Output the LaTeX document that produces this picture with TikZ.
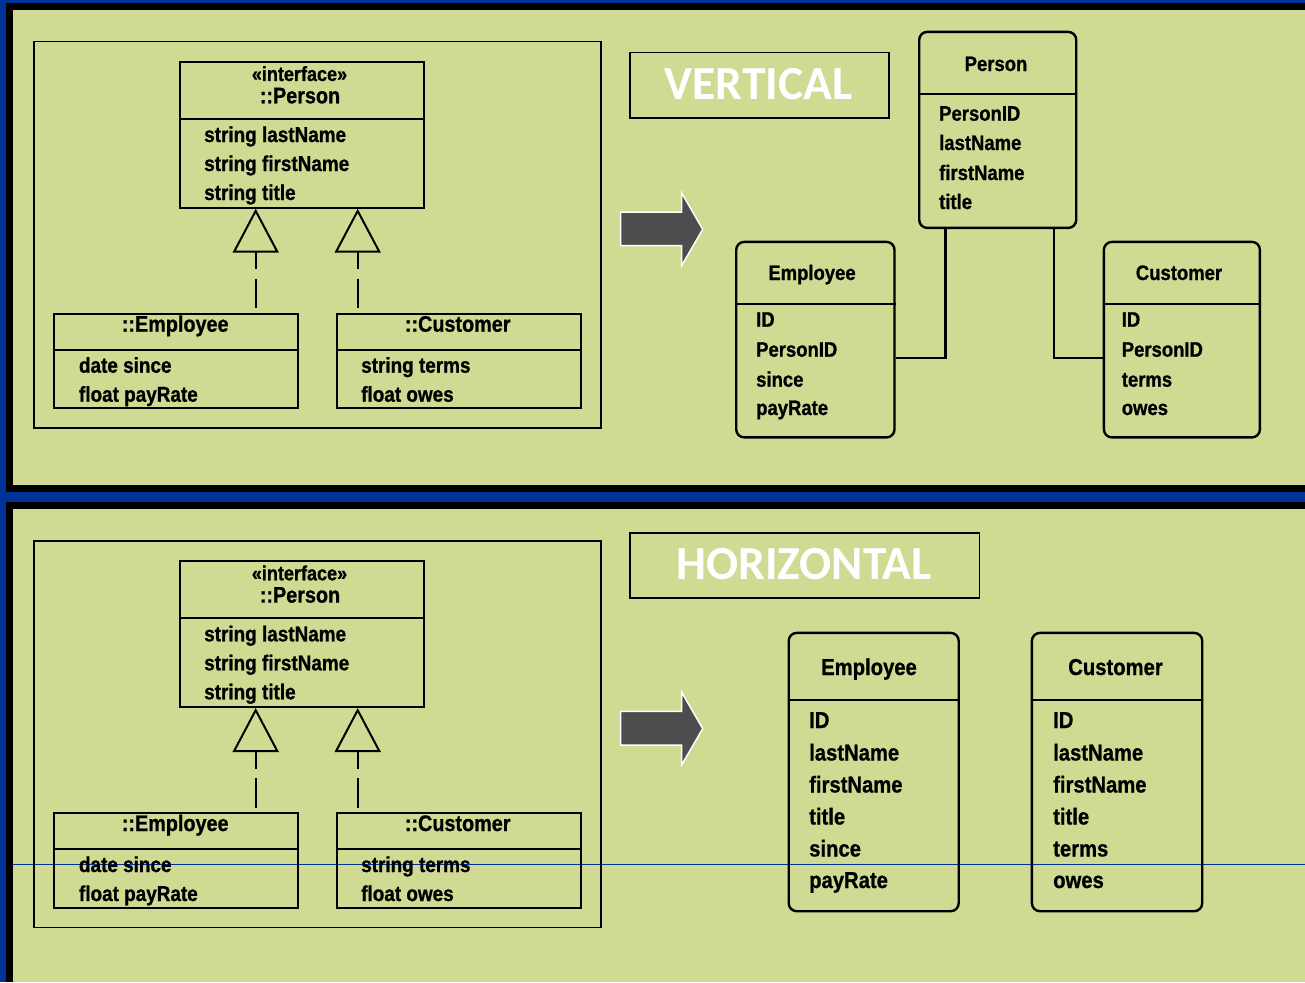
\documentclass[tikz,border=0pt]{standalone}
\usepackage{fontspec}
\usetikzlibrary{arrows.meta}
\newfontfamily\umlf[FakeStretch=0.88, FakeBold=0.9]{Liberation Sans}
\newfontfamily\headf{Carlito}
\definecolor{panelgreen}{RGB}{208,218,146}
\definecolor{frameblue}{RGB}{0,51,153}
\definecolor{arrowgray}{RGB}{77,77,77}
\tikzset{
  umlbox/.style={draw=black, line width=2pt, anchor=north west, inner sep=0pt},
  thinbox/.style={draw=black, line width=1.8pt, anchor=north west, inner sep=0pt},
  tblbox/.style={draw=black, line width=2.4pt, rounded corners=8pt, anchor=north west, inner sep=0pt},
  divider/.style={draw=black, line width=2pt},
  umlattr/.style={font=\umlf\bfseries\fontsize{21.5}{24}\selectfont, anchor=base west, inner sep=0pt},
  umltitle/.style={font=\umlf\bfseries\fontsize{22.5}{24}\selectfont, anchor=base, inner sep=0pt},
  stereo/.style={font=\umlf\bfseries\fontsize{20.5}{22}\selectfont, anchor=base, inner sep=0pt},
  tattr/.style={font=\umlf\bfseries\fontsize{21}{24}\selectfont, anchor=base west, inner sep=0pt},
  ttitle/.style={font=\umlf\bfseries\fontsize{21}{24}\selectfont, anchor=base, inner sep=0pt},
  battr/.style={font=\umlf\bfseries\fontsize{23}{26}\selectfont, anchor=base west, inner sep=0pt},
  btitle/.style={font=\umlf\bfseries\fontsize{23}{26}\selectfont, anchor=base, inner sep=0pt},
  headtxt/.style={font=\headf\bfseries\fontsize{47.5}{52}\selectfont, text=white, anchor=base, inner sep=0pt},
  gen/.style={draw=black, line width=2pt, dash pattern=on 17pt off 9.5pt on 60pt,
    {Triangle[open, length=44pt, width=46pt]}-, shorten >=4.5pt},
  conn/.style={draw=black, line width=2.4pt},
  bigarrow/.style={fill=arrowgray, draw=white, line width=1.5pt, line join=miter},
}
\newcommand\umlblock[1]{%
  \node[thinbox, minimum width=566.8pt, minimum height=386.6pt] (outer#1) at (33.2,40.7) {};
  \node[umlbox, minimum width=244pt, minimum height=146pt] (per#1) at (179,60.7) {};
  \draw[divider] ([yshift=-58.3pt]per#1.north west) -- ([yshift=-58.3pt]per#1.north east);
  \node[stereo] (st#1) at (299.5,81) {«interface»};
  \node[umltitle] (pt#1) at (300,103.3) {::Person};
  \node[umlattr] (pa1#1) at (204,142) {string lastName};
  \node[umlattr] (pa2#1) at (204,171) {string firstName};
  \node[umlattr] (pa3#1) at (204,200) {string title};
  \node[umlbox, minimum width=244.3pt, minimum height=94.6pt] (emp#1) at (53,312.7) {};
  \draw[divider] ([yshift=-37.3pt]emp#1.north west) -- ([yshift=-37.3pt]emp#1.north east);
  \node[umltitle] (et#1) at (175.2,331.7) {::Employee};
  \node[umlattr] (ea1#1) at (78.8,372.7) {date since};
  \node[umlattr] (ea2#1) at (78.8,401.7) {float payRate};
  \node[umlbox, minimum width=243.8pt, minimum height=94.6pt] (cus#1) at (335.8,312.7) {};
  \draw[divider] ([yshift=-37.3pt]cus#1.north west) -- ([yshift=-37.3pt]cus#1.north east);
  \node[umltitle] (ct#1) at (457.7,331.7) {::Customer};
  \node[umlattr] (ca1#1) at (361,372.7) {string terms};
  \node[umlattr] (ca2#1) at (361,401.7) {float owes};
  \coordinate (ga#1) at (255.7,0);
  \coordinate (gb#1) at (357.7,0);
  \draw[gen] (per#1.south -| ga#1) -- (emp#1.north -| ga#1);
  \draw[gen] (per#1.south -| gb#1) -- (cus#1.north -| gb#1);
  \filldraw[bigarrow] (620.7,212) -- (681.7,212) -- (681.7,193) -- (702.7,229.3)
    -- (681.7,265.5) -- (681.7,245.7) -- (620.7,245.7) -- cycle;
}
\begin{document}
\begin{tikzpicture}[x=1pt, y=-1pt]
\path[use as bounding box] (0,0) rectangle (1305,982);
% frame and panels
\fill[frameblue] (0,0) rectangle (1305,982);
\fill[black] (6,3) rectangle (1305,491.5);
\fill[panelgreen] (12.5,10) rectangle (1305,485);
\fill[black] (6,502) rectangle (1305,982);
\fill[panelgreen] (12.5,508.5) rectangle (1305,982);
\draw[frameblue, line width=1pt] (12.5,864.3) -- (1305,864.3);

% ===== top panel =====
\umlblock{A}
\node[thinbox, minimum width=258.6pt, minimum height=65.6pt] (vbox) at (629.2,51.7) {};
\node[headtxt] (vtxt) at (758.5,99.3) {VERTICAL};

\node[tblbox, minimum width=157pt, minimum height=196pt] (perT) at (918,30.7) {};
\draw[divider] ([yshift=-63.3pt]perT.north west) -- ([yshift=-63.3pt]perT.north east);
\node[ttitle] (perTt) at (996,71) {Person};
\node[tattr] (perT1) at (939,120.7) {PersonID};
\node[tattr] (perT2) at (939,150) {lastName};
\node[tattr] (perT3) at (939,180) {firstName};
\node[tattr] (perT4) at (939,209) {title};

\node[tblbox, minimum width=158.3pt, minimum height=195.5pt] (empT) at (735,240.7) {};
\draw[divider] ([yshift=-63.3pt]empT.north west) -- ([yshift=-63.3pt]empT.north east);
\node[ttitle] (empTt) at (812,280) {Employee};
\node[tattr] (empT1) at (756,326.7) {ID};
\node[tattr] (empT2) at (756,356.7) {PersonID};
\node[tattr] (empT3) at (756,386.7) {since};
\node[tattr] (empT4) at (756,415) {payRate};

\node[tblbox, minimum width=156pt, minimum height=195.5pt] (cusT) at (1102.7,240.7) {};
\draw[divider] ([yshift=-63.3pt]cusT.north west) -- ([yshift=-63.3pt]cusT.north east);
\node[ttitle] (cusTt) at (1179,280) {Customer};
\node[tattr] (cusT1) at (1121.6,326.7) {ID};
\node[tattr] (cusT2) at (1121.6,356.7) {PersonID};
\node[tattr] (cusT3) at (1121.6,386.7) {terms};
\node[tattr] (cusT4) at (1121.6,415) {owes};

\coordinate (c1) at (945.3,357.7);
\coordinate (c2) at (1054,357.7);
\draw[conn] (perT.south -| c1) -- (c1) -- (empT.east |- c1);
\draw[conn] (perT.south -| c2) -- (c2) -- (cusT.west |- c2);

% ===== bottom panel =====
\begin{scope}[yshift=-499.3pt]
\umlblock{B}
\end{scope}
\node[thinbox, minimum width=349.4pt, minimum height=65.6pt] (hbox) at (629.2,531.7) {};
\node[headtxt] (htxt) at (804,579.3) {HORIZONTAL};

\node[tblbox, minimum width=170pt, minimum height=278.3pt] (empH) at (787.5,631.7) {};
\draw[divider] ([yshift=-68.3pt]empH.north west) -- ([yshift=-68.3pt]empH.north east);
\node[btitle] (empHt) at (869,675) {Employee};
\node[battr] (empH1) at (809,728) {ID};
\node[battr] (empH2) at (809,760.5) {lastName};
\node[battr] (empH3) at (809,792.5) {firstName};
\node[battr] (empH4) at (809,824.5) {title};
\node[battr] (empH5) at (809,856.5) {since};
\node[battr] (empH6) at (809,888) {payRate};

\node[tblbox, minimum width=170.3pt, minimum height=278.3pt] (cusH) at (1030.7,631.7) {};
\draw[divider] ([yshift=-68.3pt]cusH.north west) -- ([yshift=-68.3pt]cusH.north east);
\node[btitle] (cusHt) at (1115.5,675) {Customer};
\node[battr] (cusH1) at (1053,728) {ID};
\node[battr] (cusH2) at (1053,760.5) {lastName};
\node[battr] (cusH3) at (1053,792.5) {firstName};
\node[battr] (cusH4) at (1053,824.5) {title};
\node[battr] (cusH5) at (1053,856.5) {terms};
\node[battr] (cusH6) at (1053,888) {owes};
\end{tikzpicture}
\end{document}
